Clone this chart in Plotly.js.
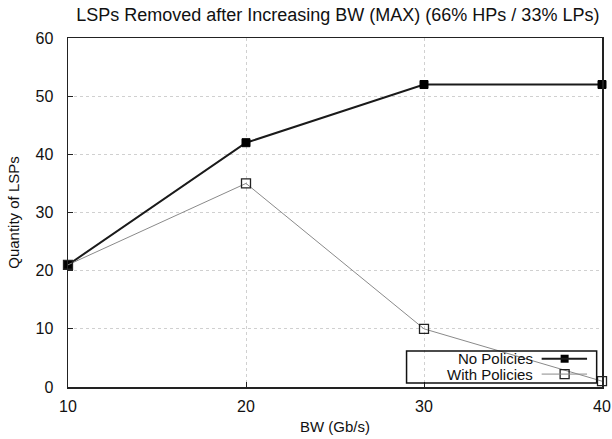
<!DOCTYPE html>
<html>
<head>
<meta charset="utf-8">
<script src="https://cdn.plot.ly/plotly-3.0.1.min.js"></script>
<style>html,body{margin:0;padding:0;background:#fff;}#chart{width:612px;height:439px;}</style>
</head>
<body>
<div id="chart"></div>
<script>
var bw = [10, 20, 30, 40];
var noPolicies = [21, 42, 52, 52];
var withPolicies = [21, 35, 10, 1];
var seriesNames = ["No Policies", "With Policies"];
var xTicks = [10, 20, 30, 40];
var yTicks = [0, 10, 20, 30, 40, 50, 60];

var font = "Liberation Sans, Arial, Helvetica, sans-serif";

var traces = [
  {x: bw, y: noPolicies, name: seriesNames[0], type: "scatter", mode: "lines+markers",
   line: {color: "#1a1a1a", width: 2},
   marker: {symbol: "square", size: 8, color: "#000", line: {color: "#000", width: 1}},
   cliponaxis: false, showlegend: false},
  {x: bw, y: withPolicies, name: seriesNames[1], type: "scatter", mode: "lines+markers",
   line: {color: "#8a8a8a", width: 1},
   marker: {symbol: "square-open", size: 9, color: "#222", line: {color: "#222", width: 1.3}},
   cliponaxis: false, showlegend: false}
];

// custom legend (text right, sample on right like gnuplot)
var lx0 = 0.634, lx1 = 0.99, ly0 = 0.0115, ly1 = 0.103;
var rowY = [0.081, 0.037];
var shapes = [
  {type: "rect", xref: "paper", yref: "paper", x0: lx0, x1: lx1, y0: ly0, y1: ly1,
   line: {color: "#111", width: 1.5}, fillcolor: "rgba(0,0,0,0)", layer: "above"},
  {type: "line", xref: "paper", yref: "paper", x0: 0.887, x1: 0.972, y0: rowY[0], y1: rowY[0],
   line: {color: "#1a1a1a", width: 2}, layer: "above"},
  {type: "line", xref: "paper", yref: "paper", x0: 0.887, x1: 0.972, y0: rowY[1], y1: rowY[1],
   line: {color: "#8a8a8a", width: 1}, layer: "above"}
];
var annotations = [
  {xref: "paper", yref: "paper", x: 0.873, y: rowY[0], xanchor: "right", yanchor: "middle",
   text: seriesNames[0], showarrow: false, borderpad: 0, font: {family: font, size: 15, color: "#111"}},
  {xref: "paper", yref: "paper", x: 0.873, y: rowY[1], xanchor: "right", yanchor: "middle",
   text: seriesNames[1], showarrow: false, borderpad: 0, font: {family: font, size: 15, color: "#111"}}
];
traces.push({x: [0.93], y: [rowY[0]], xaxis: "x2", yaxis: "y2", type: "scatter", mode: "markers",
  marker: {symbol: "square", size: 8, color: "#000"}, showlegend: false, hoverinfo: "skip", cliponaxis: false});
traces.push({x: [0.93], y: [rowY[1]], xaxis: "x2", yaxis: "y2", type: "scatter", mode: "markers",
  marker: {symbol: "square-open", size: 9, color: "#222", line: {width: 1.3}}, showlegend: false, hoverinfo: "skip", cliponaxis: false});

var layout = {
  width: 612, height: 439,
  margin: {l: 68, r: 10, t: 38, b: 52},
  paper_bgcolor: "#fff", plot_bgcolor: "#fff",
  showlegend: false,
  title: {text: "LSPs Removed after Increasing BW (MAX) (66% HPs / 33% LPs)",
          font: {family: font, size: 18, color: "#111"}, x: 0.552, xanchor: "center", y: 0.966, yanchor: "middle"},
  xaxis: {range: [10, 40], tickvals: xTicks, ticktext: xTicks.map(String),
          showline: true, linecolor: "#222", linewidth: 1.5, mirror: true,
          ticks: "inside", ticklen: 5, tickcolor: "#222",
          showgrid: true, gridcolor: "#d0d0d0", griddash: "dot", gridwidth: 1,
          zeroline: false, ticklabeloverflow: "allow", ticklabelstandoff: 4,
          tickfont: {family: font, size: 16, color: "#111"},
          title: {text: "BW (Gb/s)", font: {family: font, size: 15, color: "#111"}, standoff: 8}},
  yaxis: {range: [0, 60], tickvals: yTicks, ticktext: yTicks.map(String),
          showline: true, linecolor: "#222", linewidth: 1.5, mirror: true,
          ticks: "inside", ticklen: 5, tickcolor: "#222",
          showgrid: true, gridcolor: "#d0d0d0", griddash: "dot", gridwidth: 1,
          zeroline: false, ticklabelstandoff: 10,
          tickfont: {family: font, size: 16, color: "#111"},
          title: {text: "Quantity of LSPs", font: {family: font, size: 15, color: "#111"}, standoff: 12}},
  xaxis2: {domain: [0, 1], range: [0, 1], overlaying: "x", visible: false, fixedrange: true},
  yaxis2: {domain: [0, 1], range: [0, 1], overlaying: "y", visible: false, fixedrange: true},
  shapes: shapes,
  annotations: annotations
};

Plotly.newPlot("chart", traces, layout, {displayModeBar: false, staticPlot: true});
</script>
</body>
</html>
